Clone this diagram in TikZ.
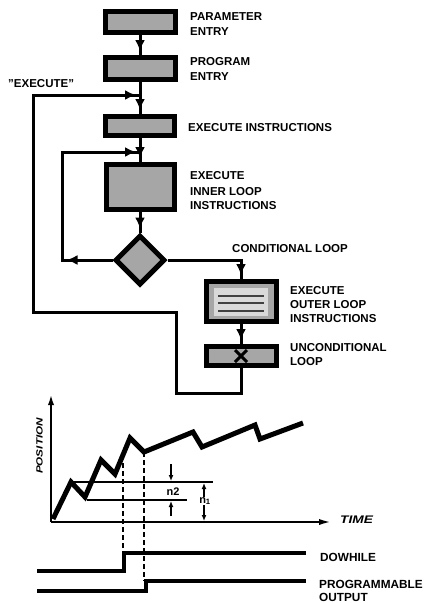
\documentclass[tikz,border=0pt]{standalone}
\usepackage{fontspec}
\setmainfont{Liberation Sans}
\usetikzlibrary{arrows.meta,decorations.markings,shapes.geometric,calc}

\tikzset{
  blk/.style={draw=black, line width=5pt, fill=gray!70, rectangle, inner sep=0pt},
  lab/.style={anchor=base west, inner sep=0pt, font=\fontsize{11.5}{14}\selectfont\bfseries},
  siglab/.style={anchor=base west, inner sep=0pt, font=\fontsize{11.8}{15}\selectfont\bfseries},
  wire/.style={line width=3pt},
  headtip/.tip={Latex[length=11pt,width=10pt]},
  flow/.style={wire, postaction={decorate, decoration={markings,
      mark=at position -#1 with {\arrow{headtip}}}}},
  flow/.default=4pt,
  tipat/.style={postaction={decorate, decoration={markings,
      mark=at position #1 with {\arrow{headtip}}}}},
  thinline/.style={line width=1.5pt},
  dimarrow/.style={line width=1.3pt, -{Latex[length=6pt,width=5pt]}},
  dimlab/.style={inner sep=0.5pt, font=\fontsize{11}{11}\selectfont\bfseries},
}

\begin{document}
\begin{tikzpicture}[x=1pt, y=-1pt]
  \useasboundingbox (0,0) rectangle (427,603);

  % ---------------- flow chart ----------------
  \node[blk, minimum width=70pt, minimum height=21pt] (b1) at (140,22) {};
  \node[blk, minimum width=70pt, minimum height=22pt] (b2) at (140,68.5) {};
  \node[blk, minimum width=69pt, minimum height=19pt] (b3) at (140,126) {};
  \node[blk, minimum width=68pt, minimum height=45pt] (b4) at (140,187) {};
  \node[draw=black, line width=5pt, fill=gray!70, diamond, aspect=1,
        inner sep=0pt, minimum width=50pt, minimum height=50pt] (d) at (140,260) {};
  \node[blk, minimum width=70pt, minimum height=40pt] (b5) at (241,301.5) {};
  \node[blk, minimum width=70pt, minimum height=19pt] (b6) at (241,356) {};

  % striped panel of the outer loop block
  \fill[gray!30] ([shift={(-27,-14)}]b5.center) rectangle ([shift={(27,14)}]b5.center);
  \foreach \dy in {-5.5,1.5,9.5}
    \draw[line width=1.2pt, black!75] ([shift={(-23,\dy)}]b5.center) -- ([shift={(23,\dy)}]b5.center);
  % cross of the unconditional loop block
  \draw[line width=3pt] ([shift={(-6,-6)}]b6.center) -- ([shift={(6,6)}]b6.center);
  \draw[line width=3pt] ([shift={(-6,6)}]b6.center) -- ([shift={(6,-6)}]b6.center);

  % junctions and corners
  \coordinate (j1) at (140,95);
  \coordinate (j2) at (140,152);
  \coordinate (i1) at (62,260);
  \coordinate (o1) at (176,393);
  \coordinate (o2) at (33,312);

  \draw[flow] (b1) -- (b2);
  \draw[flow] (b2) -- (b3);
  \draw[flow] (b3) -- (b4);
  \draw[flow] (b4) -- (d);
  \draw[flow] (d.east) -| (b5.north);
  \draw[flow] (b5) -- (b6);
  \draw[flow, tipat=46pt] (d.west) -- (i1) |- (j2);
  \draw[flow] (b6.south) |- (o1) |- (o2) |- (j1);

  % labels
  \node[lab] (l1a) at (190,20) {PARAMETER};
  \node[lab] (l1b) at (190,35) {ENTRY};
  \node[lab] (l2a) at (190,65) {PROGRAM};
  \node[lab] (l2b) at (190,80) {ENTRY};
  \node[lab] (lex) at (8,87) {"EXECUTE"};
  \node[lab] (l3) at (188,131) {EXECUTE INSTRUCTIONS};
  \node[lab] (l4a) at (190,179) {EXECUTE};
  \node[lab] (l4b) at (190,195) {INNER LOOP};
  \node[lab] (l4c) at (190,209) {INSTRUCTIONS};
  \node[lab] (lc) at (232,252) {CONDITIONAL LOOP};
  \node[lab] (l5a) at (290,294) {EXECUTE};
  \node[lab] (l5b) at (290,308) {OUTER LOOP};
  \node[lab] (l5c) at (290,322) {INSTRUCTIONS};
  \node[lab] (l6a) at (290,351) {UNCONDITIONAL};
  \node[lab] (l6b) at (290,365) {LOOP};

  % ---------------- position / time chart ----------------
  \coordinate (org) at (51,522);
  \coordinate (ytop) at (51,393);
  \coordinate (xend) at (333,522);
  \draw[line width=2.5pt, -{Latex[length=12pt,width=6pt]}] (org) -- (ytop);
  \draw[line width=2.5pt, -{Latex[length=14pt,width=6pt]}] (org) -- (xend);

  \node[anchor=south, rotate=90, inner sep=0pt,
        font=\fontsize{9}{9}\selectfont\bfseries\itshape] (pos) at (43,446)
        {\scalebox{1.3}[1]{POSITION}};
  \node[anchor=base west, inner sep=0pt,
        font=\fontsize{11}{11}\selectfont\bfseries\itshape] (time) at (340,523)
        {\scalebox{1.25}[1]{TIME}};

  % reference levels
  \draw[thinline] (73,482) -- (213,482);
  \draw[thinline] (87,500) -- (187,500);

  % position trace
  \draw[line width=5pt, line join=miter] (53,519) -- (71,482) -- (85,497) -- (101,460)
    -- (115,474) -- (130,438) -- (144,452) -- (193,432) -- (202,447)
    -- (255,425) -- (260,439) -- (303,423);

  % dimension marks
  \draw[dimarrow] (171,464) -- (171,481);
  \draw[dimarrow] (171,516) -- (171,501);
  \node[dimlab] (n2) at (173,492) {n2};
  \draw[line width=1.3pt, {Latex[length=6pt,width=5pt]}-{Latex[length=6pt,width=5pt]}]
    (204,483) -- (204,521);
  \node[dimlab, fill=white] (n1) at (205,501) {n\textsubscript{1}};

  % dashed markers
  \draw[thinline, dash pattern=on 5pt off 3pt] (123,463) -- (123,553);
  \draw[thinline, dash pattern=on 5pt off 3pt] (144,452) -- (144,581);

  % logic signals
  \draw[line width=4pt, line join=miter] (37,571) -- (124,571) -- (124,553) -- (306,553);
  \draw[line width=4pt, line join=miter] (37,591) -- (146,591) -- (146,581) -- (306,581);
  \node[siglab] (dw) at (320,561) {DOWHILE};
  \node[siglab] (po1) at (319,588) {PROGRAMMABLE};
  \node[siglab] (po2) at (319,601) {OUTPUT};
\end{tikzpicture}
\end{document}
